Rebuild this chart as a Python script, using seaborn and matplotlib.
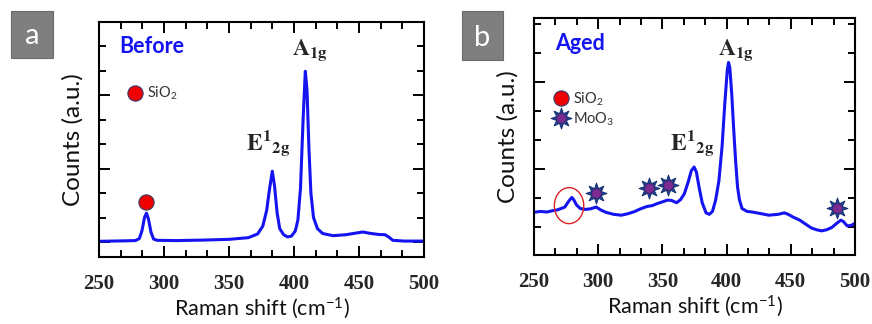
import matplotlib
matplotlib.use("Agg")
import matplotlib.pyplot as plt
import seaborn as sns
import pandas as pd
from matplotlib.patches import Ellipse, Rectangle
from matplotlib.ticker import MultipleLocator

# ---------------- data ----------------
before_shift = [250, 260, 270, 278, 281, 283, 285, 286.5, 288, 290, 292, 295, 310, 330, 350,
                365, 372, 376, 379, 381, 383.3, 385, 387, 389, 392, 395, 398, 401, 403, 405,
                407, 408.7, 410, 411.5, 413, 415, 418, 422, 430, 440, 448, 453, 458, 465,
                470, 473, 476, 485, 500]
before_counts = [0.03, 0.04, 0.05, 0.06, 0.14, 0.45, 1.0, 1.18, 0.95, 0.4, 0.12, 0.07, 0.06,
                 0.08, 0.11, 0.18, 0.33, 0.65, 1.3, 2.1, 2.89, 2.3, 1.2, 0.55, 0.3, 0.21, 0.24,
                 0.45, 0.9, 2.2, 5.0, 6.97, 6.2, 3.8, 2.0, 1.0, 0.55, 0.35, 0.26, 0.3, 0.37,
                 0.41, 0.36, 0.31, 0.3, 0.2, 0.07, 0.04, 0.04]

aged_shift = [250, 255, 260, 265, 268, 271, 274, 277, 279.4, 281, 283, 286, 290, 294, 298.5,
              302, 306, 312, 318, 323, 328, 333, 338, 342, 346, 350, 354, 357, 361, 364, 367,
              370, 372.5, 374.7, 376.5, 378.5, 381, 384, 386.5, 389, 391.5, 394, 396.5, 398.5,
              400.5, 401.5, 402.5, 404, 405.5, 407, 408.5, 410, 412, 416, 420, 426, 433, 440,
              445, 448, 452, 457, 462, 466, 470, 474, 478, 482, 486, 489, 491, 494, 497, 500]
aged_counts = [-1.48, -1.45, -1.47, -1.42, -1.40, -1.35, -1.30, -1.10, -0.97, -1.05, -1.22,
               -1.35, -1.38, -1.36, -1.30, -1.40, -1.48, -1.55, -1.58, -1.53, -1.46, -1.36,
               -1.28, -1.25, -1.18, -1.12, -1.06, -1.07, -1.15, -1.05, -0.85, -0.45, -0.05,
               0.08, -0.10, -0.60, -1.15, -1.50, -1.55, -1.45, -1.05, -0.40, 0.80, 2.20, 3.40,
               3.68, 3.50, 2.60, 1.40, 0.30, -0.60, -1.05, -1.35, -1.45, -1.47, -1.52, -1.58,
               -1.55, -1.50, -1.55, -1.65, -1.75, -1.90, -2.02, -2.08, -2.12, -2.08, -2.00,
               -1.85, -1.75, -1.80, -1.95, -1.93, -1.86]

sio2_before = (286.5, 1.64)
sio2_aged_circle = (277.3, -1.25, 22.9, 1.24)
moo3_shift = [298.6, 339.7, 354.5, 486.0]
moo3_counts = [-0.83, -0.63, -0.54, -1.34]

x_ticks = [250, 300, 350, 400, 450, 500]

# ---------------- style ----------------
sns.set_theme(style="ticks")
plt.rcParams["font.family"] = ["Lato", "DejaVu Sans"]
plt.rcParams["mathtext.fontset"] = "custom"
plt.rcParams["mathtext.rm"] = "Lato"
plt.rcParams["mathtext.it"] = "Lato:italic"
plt.rcParams["mathtext.bf"] = "Lato:bold"

BLUE = "#1414f0"
SERIF = "Liberation Serif"

fig = plt.figure(figsize=(8.72, 3.24), dpi=100)
axA = fig.add_axes([99 / 872, 1 - 257 / 324, 325 / 872, 235 / 324])
axB = fig.add_axes([534 / 872, 1 - 255 / 324, 321 / 872, 237 / 324])


def style_axes(ax, ylim):
    ax.set_xlim(250, 500)
    ax.set_ylim(*ylim)
    ax.set_xticks(x_ticks)
    ax.xaxis.set_minor_locator(MultipleLocator(50 / 3))
    ax.yaxis.set_major_locator(MultipleLocator(3))
    ax.yaxis.set_minor_locator(MultipleLocator(1))
    ax.tick_params(which="both", direction="in", top=True, right=True, width=1.4, color="black")
    ax.tick_params(which="major", length=8)
    ax.tick_params(which="minor", length=5)
    ax.tick_params(axis="y", which="both", labelleft=False)
    ax.tick_params(axis="x", pad=12)
    for lab in ax.get_xticklabels():
        lab.set_fontfamily(SERIF)
        lab.set_fontweight("bold")
        lab.set_fontsize(15)
    for s in ax.spines.values():
        s.set_linewidth(1.5)
        s.set_color("black")
    ax.set_xlabel("Raman shift (cm$^{-1}$)", fontsize=15.5, color="#111111", labelpad=1)
    ax.set_ylabel("Counts (a.u.)", fontsize=17.5, color="#111111", labelpad=11)


def draw_star(ax, xs, ys, big=230, small=45):
    df = pd.DataFrame({"x": xs, "y": ys})
    sns.scatterplot(data=df, x="x", y="y", ax=ax, marker=(8, 1, 0), s=big,
                    color="#1f3f8f", edgecolor="#0f2a6a", linewidth=0.6, zorder=5, legend=False)
    sns.scatterplot(data=df, x="x", y="y", ax=ax, marker="o", s=small,
                    color="#7a2a90", edgecolor="#5a1a70", linewidth=0.4, zorder=6, legend=False)


def draw_dot(ax, x, y, s=120):
    df = pd.DataFrame({"x": [x], "y": [y]})
    sns.scatterplot(data=df, x="x", y="y", ax=ax, marker="o", s=s, color="#ee0000",
                    edgecolor="#3a3a6a", linewidth=0.8, zorder=5, legend=False)


# ---------------- panel a ----------------
dfa = pd.DataFrame({"shift": before_shift, "counts": before_counts})
sns.lineplot(data=dfa, x="shift", y="counts", ax=axA, color=BLUE, lw=2.2, sort=False)
style_axes(axA, (-0.61, 8.98))
draw_dot(axA, *sio2_before)
draw_dot(axA, 277.7, 6.09)
axA.text(287.2, 6.05, "SiO$_2$", fontsize=10.5, color="#333333", va="center", ha="left")
axA.text(265.5, 7.96, "Before", fontsize=15.5, fontweight="bold", color=BLUE, va="center", ha="left")
axA.text(412, 7.85, r"$\mathbf{A_{1g}}$", fontsize=17, math_fontfamily="stix", ha="center", va="center")
axA.text(380, 4.05, r"$\mathbf{E^{1}{}_{2g}}$", fontsize=17, math_fontfamily="stix", ha="center", va="center")

# ---------------- panel b ----------------
dfb = pd.DataFrame({"shift": aged_shift, "counts": aged_counts})
sns.lineplot(data=dfb, x="shift", y="counts", ax=axB, color=BLUE, lw=2.2, sort=False)
style_axes(axB, (-2.95, 5.21))
draw_star(axB, moo3_shift, moo3_counts)
cx, cy, cw, ch = sio2_aged_circle
axB.add_patch(Ellipse((cx, cy), cw, ch, fill=False, edgecolor="#dd2020", lw=1.0, zorder=4))
draw_dot(axB, 270.8, 2.45)
draw_star(axB, [270.8], [1.76])
axB.text(280.3, 2.42, "SiO$_2$", fontsize=10.5, color="#333333", va="center", ha="left")
axB.text(280.3, 1.73, "MoO$_3$", fontsize=10.5, color="#333333", va="center", ha="left")
axB.text(266.4, 4.34, "Aged", fontsize=15.5, fontweight="bold", color=BLUE, va="center", ha="left")
axB.text(407, 4.1, r"$\mathbf{A_{1g}}$", fontsize=17, math_fontfamily="stix", ha="center", va="center")
axB.text(373.5, 0.9, r"$\mathbf{E^{1}{}_{2g}}$", fontsize=17, math_fontfamily="stix", ha="center", va="center")

# ---------------- panel letters ----------------
for (x0, y0, w, h, letter) in [(11, 11, 42, 47, "a"), (462, 11, 41, 49, "b")]:
    fig.patches.append(Rectangle((x0 / 872, 1 - (y0 + h) / 324), w / 872, h / 324,
                                 transform=fig.transFigure, facecolor="#7f7f7f",
                                 edgecolor="#6a6a6a", lw=0.8))
    fig.text((x0 + w / 2) / 872, 1 - (y0 + h / 2 + 2) / 324, letter, color="white",
             fontsize=21, ha="center", va="center")

fig.savefig("out.png", dpi=100)
